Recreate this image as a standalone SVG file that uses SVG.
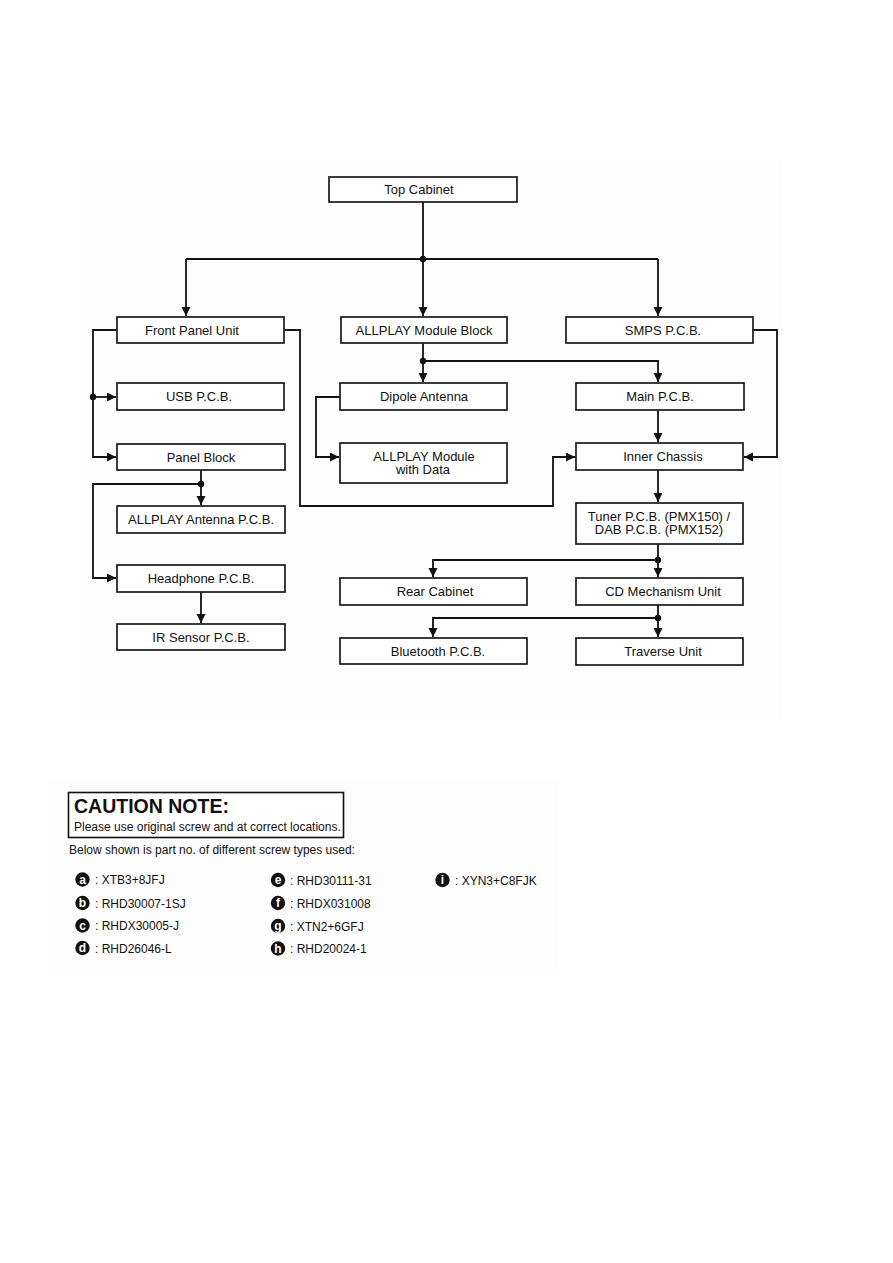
<svg xmlns="http://www.w3.org/2000/svg" width="893" height="1263" viewBox="0 0 893 1263">
<defs>
<style>
.bx{fill:#ffffff;stroke:#1a1a1a;stroke-width:1.7}
.t{font-family:"Liberation Sans",Arial,sans-serif;font-size:13px;fill:#111;text-anchor:middle}
.c{fill:none;stroke:#111;stroke-width:1.8}
.dot{fill:#111}
.s{font-family:"Liberation Sans",Arial,sans-serif;font-size:12px;fill:#111}
.bl{fill:#111}
.bt{font-family:"Liberation Sans",Arial,sans-serif;font-size:12px;font-weight:bold;fill:#fff;text-anchor:middle}
</style>
<marker id="ah" markerUnits="userSpaceOnUse" markerWidth="10" markerHeight="10" refX="9" refY="4.5" orient="auto">
<path d="M0,0 L9,4.5 L0,9 z" fill="#111"/>
</marker>
</defs>
<rect x="0" y="0" width="893" height="1263" fill="#ffffff"/>
<rect x="80" y="160" width="703" height="561" fill="#fdfdfd"/>
<rect x="47" y="780" width="512" height="195" fill="#fdfdfd"/>

<g id="connectors">
<path class="c" d="M423,202 V259"/>
<path class="c" d="M186,259 H658"/>
<path class="c" d="M186,259 V316" marker-end="url(#ah)"/>
<path class="c" d="M423,259 V316" marker-end="url(#ah)"/>
<path class="c" d="M658,259 V316" marker-end="url(#ah)"/>
<circle class="dot" cx="423" cy="259" r="3.2"/>
<path class="c" d="M117,330 H93 V457 H116" marker-end="url(#ah)"/>
<path class="c" d="M93,397 H116" marker-end="url(#ah)"/>
<circle class="dot" cx="93" cy="397" r="3.2"/>
<path class="c" d="M284,330 H300 V506 H553 V457 H575" marker-end="url(#ah)"/>
<path class="c" d="M201,470 V505" marker-end="url(#ah)"/>
<path class="c" d="M201,484 H93 V578 H116" marker-end="url(#ah)"/>
<circle class="dot" cx="201" cy="484" r="3.2"/>
<path class="c" d="M201,592 V623" marker-end="url(#ah)"/>
<path class="c" d="M423,343 V382" marker-end="url(#ah)"/>
<path class="c" d="M423,361 H658 V382" marker-end="url(#ah)"/>
<circle class="dot" cx="423" cy="361" r="3.2"/>
<path class="c" d="M340,397 H316 V457 H339" marker-end="url(#ah)"/>
<path class="c" d="M753,330 H777 V457 H744" marker-end="url(#ah)"/>
<path class="c" d="M658,410 V442" marker-end="url(#ah)"/>
<path class="c" d="M658,470 V502" marker-end="url(#ah)"/>
<path class="c" d="M658,544 V577" marker-end="url(#ah)"/>
<path class="c" d="M658,560 H433 V577" marker-end="url(#ah)"/>
<circle class="dot" cx="658" cy="560" r="3.2"/>
<path class="c" d="M658,605 V637" marker-end="url(#ah)"/>
<path class="c" d="M658,618 H433 V637" marker-end="url(#ah)"/>
<circle class="dot" cx="658" cy="618" r="3.2"/>
</g>

<g id="top-cabinet"><rect class="bx" x="329" y="177" width="188" height="25"/><text class="t" x="419" y="194">Top Cabinet</text></g>
<g id="front-panel-unit"><rect class="bx" x="117" y="317" width="167" height="26"/><text class="t" x="192" y="334.5">Front Panel Unit</text></g>
<g id="allplay-module-block"><rect class="bx" x="341" y="317" width="166" height="26"/><text class="t" x="424" y="334.5">ALLPLAY Module Block</text></g>
<g id="smps-pcb"><rect class="bx" x="566" y="317" width="187" height="26"/><text class="t" x="663" y="334.5">SMPS P.C.B.</text></g>
<g id="usb-pcb"><rect class="bx" x="117" y="383" width="167" height="27"/><text class="t" x="199" y="401">USB P.C.B.</text></g>
<g id="panel-block"><rect class="bx" x="117" y="444" width="168" height="26"/><text class="t" x="201" y="461.5">Panel Block</text></g>
<g id="allplay-antenna-pcb"><rect class="bx" x="117" y="506" width="168" height="27"/><text class="t" x="201" y="524">ALLPLAY Antenna P.C.B.</text></g>
<g id="headphone-pcb"><rect class="bx" x="117" y="565" width="168" height="27"/><text class="t" x="201" y="583">Headphone P.C.B.</text></g>
<g id="ir-sensor-pcb"><rect class="bx" x="117" y="624" width="168" height="26"/><text class="t" x="201" y="641.5">IR Sensor P.C.B.</text></g>
<g id="dipole-antenna"><rect class="bx" x="340" y="383" width="167" height="27"/><text class="t" x="424" y="401">Dipole Antenna</text></g>
<g id="allplay-module-with-data"><rect class="bx" x="340" y="443" width="167" height="40"/><text class="t" x="424" y="460.5">ALLPLAY Module</text><text class="t" x="423" y="474">with Data</text></g>
<g id="main-pcb"><rect class="bx" x="576" y="383" width="168" height="27"/><text class="t" x="660" y="401">Main P.C.B.</text></g>
<g id="inner-chassis"><rect class="bx" x="576" y="443" width="167" height="27"/><text class="t" x="663" y="461">Inner Chassis</text></g>
<g id="tuner-dab-pcb"><rect class="bx" x="576" y="503" width="167" height="41"/><text class="t" x="659" y="520.5">Tuner P.C.B. (PMX150) /</text><text class="t" x="659" y="534">DAB P.C.B. (PMX152)</text></g>
<g id="rear-cabinet"><rect class="bx" x="340" y="578" width="187" height="27"/><text class="t" x="435" y="596">Rear Cabinet</text></g>
<g id="cd-mechanism-unit"><rect class="bx" x="576" y="578" width="167" height="27"/><text class="t" x="663" y="596">CD Mechanism Unit</text></g>
<g id="bluetooth-pcb"><rect class="bx" x="340" y="638" width="187" height="26"/><text class="t" x="438" y="655.5">Bluetooth P.C.B.</text></g>
<g id="traverse-unit"><rect class="bx" x="576" y="638" width="167" height="27"/><text class="t" x="663" y="656">Traverse Unit</text></g>

<g id="caution-note">
<rect x="68.5" y="792.5" width="275" height="45" fill="#fff" stroke="#111" stroke-width="1.6"/>
<text x="74" y="813" font-family="'Liberation Sans',Arial,sans-serif" font-size="19.5" font-weight="bold" fill="#111">CAUTION NOTE:</text>
<text class="s" x="74" y="831">Please use original screw and at correct locations.</text>
<text class="s" x="69" y="854">Below shown is part no. of different screw types used:</text>
</g>

<g id="screw-list">
<circle class="bl" cx="82.5" cy="879.5" r="7.2"/><text class="bt" x="82.5" y="883.7">a</text><text class="s" x="95" y="884">: XTB3+8JFJ</text>
<circle class="bl" cx="82.5" cy="903" r="7.2"/><text class="bt" x="82.5" y="907.2">b</text><text class="s" x="95" y="907.5">: RHD30007-1SJ</text>
<circle class="bl" cx="82.5" cy="925.5" r="7.2"/><text class="bt" x="82.5" y="929.7">c</text><text class="s" x="95" y="930">: RHDX30005-J</text>
<circle class="bl" cx="82.5" cy="948" r="7.2"/><text class="bt" x="82.5" y="952.2">d</text><text class="s" x="95" y="952.5">: RHD26046-L</text>
<circle class="bl" cx="278" cy="880" r="7.2"/><text class="bt" x="278" y="884.2">e</text><text class="s" x="290" y="884.5">: RHD30111-31</text>
<circle class="bl" cx="278" cy="903" r="7.2"/><text class="bt" x="278" y="907.2">f</text><text class="s" x="290" y="907.5">: RHDX031008</text>
<circle class="bl" cx="278" cy="926" r="7.2"/><text class="bt" x="278" y="930.2">g</text><text class="s" x="290" y="930.5">: XTN2+6GFJ</text>
<circle class="bl" cx="278" cy="948.5" r="7.2"/><text class="bt" x="278" y="952.7">h</text><text class="s" x="290" y="953">: RHD20024-1</text>
<circle class="bl" cx="442.5" cy="880" r="7.2"/><text class="bt" x="442.5" y="884.2">i</text><text class="s" x="455" y="884.5">: XYN3+C8FJK</text>
</g>
</svg>
